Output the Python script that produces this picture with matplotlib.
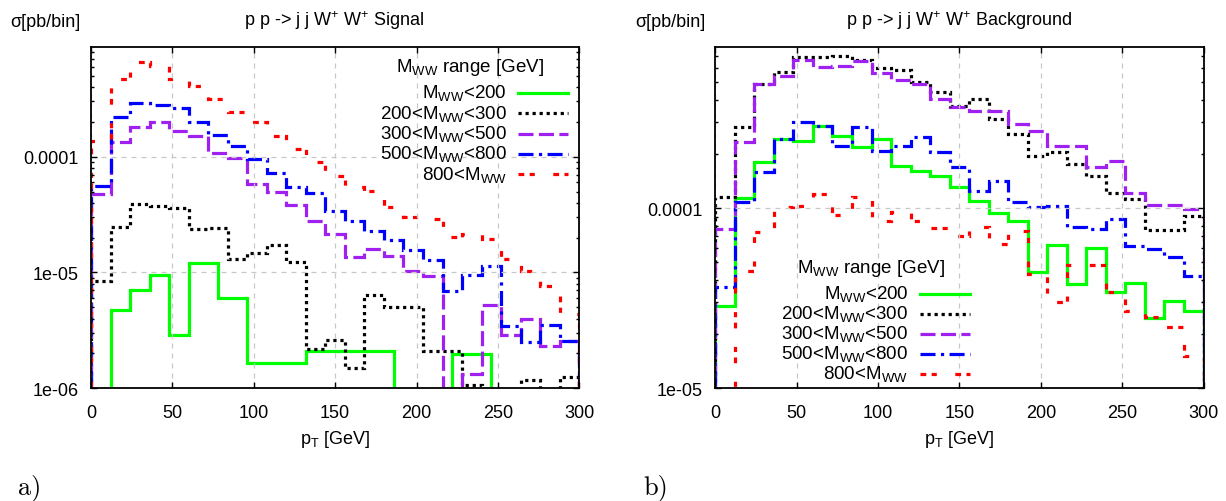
import numpy as np
import matplotlib
matplotlib.use('Agg')
import matplotlib.pyplot as plt
from matplotlib.lines import Line2D
from matplotlib.ticker import FixedLocator, FixedFormatter, LogLocator, NullFormatter

plt.rcParams['font.family'] = ['Liberation Sans', 'DejaVu Sans']
plt.rcParams['mathtext.fontset'] = 'custom'
plt.rcParams['mathtext.rm'] = 'Liberation Sans'
plt.rcParams['mathtext.it'] = 'Liberation Sans:italic'
plt.rcParams['mathtext.bf'] = 'Liberation Sans:bold'

# bin centres (12 GeV bins), 0 = empty bin (dropped on the log axis like gnuplot)
pt = [6, 18, 30, 42, 54, 66, 78, 90, 102, 114, 126, 138, 150,
      162, 174, 186, 198, 210, 222, 234, 246, 258, 270, 282, 294]

# a) signal
sig_green = [0, 4.7e-6, 7.1e-6, 9.6e-6, 2.9e-6, 1.2e-5, 0, 6.0e-6, 1.64e-6, 1.64e-6,
             1.64e-6, 2.1e-6, 2.1e-6, 2.1e-6, 2.1e-6, 0, 5e-7, 5e-7, 0, 1.96e-6,
             0, 5e-7, 5e-7, 5e-7, 5e-7]
sig_black = [8.5e-6, 2.49e-5, 3.93e-5, 3.78e-5, 3.63e-5, 2.39e-5, 2.44e-5, 1.32e-5, 1.46e-5, 1.74e-5,
             1.22e-5, 2.17e-6, 2.59e-6, 1.49e-6, 6.34e-6, 5.0e-6, 5.0e-6, 2.08e-6, 2.08e-6, 1.06e-6,
             5e-7, 5e-7, 1.17e-6, 5e-7, 1.24e-6]
sig_purple = [4.8e-5, 1.35e-4, 1.82e-4, 2.0e-4, 1.68e-4, 1.52e-4, 1.08e-4, 9.8e-5, 5.85e-5, 4.99e-5,
              3.86e-5, 2.81e-5, 2.13e-5, 1.35e-5, 1.61e-5, 1.40e-5, 1.04e-5, 9.4e-6, 5e-7, 1.32e-6,
              5.2e-6, 2.86e-6, 3.93e-6, 2.30e-6, 2.54e-6]
sig_blue = [5.62e-5, 2.21e-4, 2.92e-4, 2.81e-4, 2.64e-4, 2.0e-4, 1.55e-4, 1.24e-4, 9.6e-5, 7.28e-5,
            5.51e-5, 4.89e-5, 3.42e-5, 2.81e-5, 2.30e-5, 1.89e-5, 1.55e-5, 1.27e-5, 6.86e-6, 9.42e-6,
            1.13e-5, 3.42e-6, 2.49e-6, 3.49e-6, 2.54e-6]
sig_red = [1.37e-4, 4.70e-4, 6.59e-4, 6.08e-4, 4.70e-4, 4.09e-4, 3.16e-4, 2.44e-4, 2.0e-4, 1.52e-4,
           1.17e-4, 9.06e-5, 6.86e-5, 5.51e-5, 5.09e-5, 3.71e-5, 3.04e-5, 2.92e-5, 2.04e-5, 2.17e-5,
           1.96e-5, 1.32e-5, 1.02e-5, 7.57e-6, 4.35e-6]

# b) background
bkg_green = [2.86e-5, 1.14e-4, 1.81e-4, 2.43e-4, 2.37e-4, 2.86e-4, 2.52e-4, 2.19e-4, 2.43e-4, 1.72e-4,
             1.61e-4, 1.51e-4, 1.31e-4, 1.10e-4, 9.42e-5, 8.50e-5, 4.43e-5, 6.25e-5, 3.80e-5, 6.02e-5,
             3.43e-5, 3.85e-5, 2.46e-5, 3.05e-5, 2.69e-5]
bkg_black = [1.16e-4, 2.83e-4, 4.91e-4, 5.72e-4, 6.94e-4, 6.94e-4, 7.02e-4, 6.67e-4, 6.01e-4, 5.87e-4,
             5.04e-4, 4.43e-4, 3.70e-4, 4.05e-4, 3.13e-4, 2.59e-4, 1.95e-4, 2.06e-4, 1.76e-4, 1.51e-4,
             1.22e-4, 1.13e-4, 7.58e-5, 7.58e-5, 9.06e-5]
bkg_purple = [7.67e-5, 2.34e-4, 4.91e-4, 5.43e-4, 6.67e-4, 6.09e-4, 6.18e-4, 6.58e-4, 5.65e-4, 5.16e-4,
              4.91e-4, 4.05e-4, 3.65e-4, 3.47e-4, 3.47e-4, 2.94e-4, 2.69e-4, 2.22e-4, 2.22e-4, 1.69e-4,
              1.83e-4, 1.22e-4, 1.04e-4, 1.04e-4, 9.9e-5]
bkg_blue = [3.66e-5, 1.08e-4, 1.59e-4, 2.43e-4, 3.01e-4, 2.86e-4, 2.22e-4, 2.83e-4, 2.08e-4, 2.22e-4,
            2.49e-4, 2.06e-4, 1.69e-4, 1.25e-4, 1.42e-4, 1.08e-4, 1.02e-4, 1.03e-4, 7.87e-5, 7.67e-5,
            8.72e-5, 6.18e-5, 5.94e-5, 5.36e-5, 4.21e-5]
bkg_red = [0, 4.49e-5, 7.38e-5, 1.02e-4, 1.03e-4, 1.20e-4, 9.18e-5, 1.16e-4, 8.50e-5, 9.54e-5,
           8.50e-5, 7.78e-5, 7.02e-5, 7.87e-5, 6.34e-5, 7.48e-5, 4.31e-5, 3.02e-5, 4.84e-5, 4.84e-5,
           3.43e-5, 2.69e-5, 2.49e-5, 2.19e-5, 1.51e-5]

labels = ['M$_{\\mathrm{WW}}$<200', '200<M$_{\\mathrm{WW}}$<300', '300<M$_{\\mathrm{WW}}$<500',
          '500<M$_{\\mathrm{WW}}$<800', '800<M$_{\\mathrm{WW}}$']
colors = ['#00ff00', 'black', '#a020f0', '#0000ff', '#ff0000']
styles = ['-', (0, (1, 1.2)), (0, (4.7, 1.7)), (0, (4.7, 1.7, 1, 1.7)), (0, (1.8, 1.7, 1.6, 5.8))]
LW = 2.3


def histeps(ax, x, y, **kw):
    # gnuplot-style histeps: steps at midpoints between the kept points
    x = np.asarray(x, float)
    y = np.asarray(y, float)
    ok = y > 0
    x, y = x[ok], y[ok]
    mid = (x[1:] + x[:-1]) / 2
    edges = np.concatenate([[x[0] - (x[1] - x[0]) / 2], mid, [x[-1] + (x[-1] - x[-2]) / 2]])
    ax.stairs(y, edges, baseline=1e-9, fill=False, **kw)


def setup(ax, ymin, ymax, majors, majlabels):
    ax.set_yscale('log')
    ax.set_xlim(0, 300)
    ax.set_ylim(ymin, ymax)
    ax.set_xticks([0, 50, 100, 150, 200, 250, 300])
    ax.yaxis.set_major_locator(FixedLocator(majors))
    ax.yaxis.set_major_formatter(FixedFormatter(majlabels))
    ax.yaxis.set_minor_locator(LogLocator(base=10, subs=np.arange(2, 10)))
    ax.yaxis.set_minor_formatter(NullFormatter())
    ax.tick_params(which='both', direction='in', top=True, right=True, labelsize=13)
    ax.tick_params(which='major', length=4.5, width=1, pad=9)
    ax.tick_params(axis='x', which='major', pad=11)
    ax.tick_params(which='minor', length=2.3, width=1)
    ax.grid(True, which='major', color='#c8c8c8', ls=(0, (4, 4)), lw=0.9)
    for s in ax.spines.values():
        s.set_linewidth(1.3)
    ax.set_xlabel('p$_{\\mathrm{T}}$ [GeV]', fontsize=13, labelpad=5)


def legend(ax, xr, xl0, xl1, ytitle, xtitle, y0, step):
    ax.text(xtitle, ytitle, 'M$_{\\mathrm{WW}}$ range [GeV]', transform=ax.transAxes,
            ha='center', va='baseline', fontsize=13.5, zorder=5)
    for i in range(5):
        yb = y0 - i * step
        ax.text(xr, yb, labels[i], transform=ax.transAxes, ha='right', va='baseline',
                fontsize=13.5, zorder=5)
        ax.add_line(Line2D([xl0, xl1], [yb + 0.013, yb + 0.013], transform=ax.transAxes,
                           color=colors[i], ls=styles[i], lw=LW, zorder=5))


fig = plt.figure(figsize=(12.26, 5.02), dpi=100)
ax1 = fig.add_axes([0.0742, 0.2245, 0.3983, 0.6805])
ax2 = fig.add_axes([0.5834, 0.2245, 0.3983, 0.6805])

sig = [sig_green, sig_black, sig_purple, sig_blue, sig_red]
bkg = [bkg_green, bkg_black, bkg_purple, bkg_blue, bkg_red]
for i in range(5):
    histeps(ax1, pt, sig[i], color=colors[i], ls=styles[i], lw=LW)
    histeps(ax2, pt, bkg[i], color=colors[i], ls=styles[i], lw=LW)

setup(ax1, 1e-6, 8.9e-4, [1e-6, 1e-5, 1e-4], ['1e-06', '1e-05', '0.0001'])
setup(ax2, 1e-5, 7.9e-4, [1e-5, 1e-4], ['1e-05', '0.0001'])

legend(ax1, 0.851, 0.874, 0.977, 0.9274, 0.776, 0.8513, 0.0594)
legend(ax2, 0.395, 0.419, 0.521, 0.339, 0.318, 0.2629, 0.0585)

fig.text(0.008, 0.956, '\u03c3[pb/bin]', fontsize=13, ha='left', va='center')
fig.text(0.518, 0.956, '\u03c3[pb/bin]', fontsize=13, ha='left', va='center')
fig.text(0.273, 0.958, 'p p -> j j W$^{+}$ W$^{+}$ Signal', fontsize=13, ha='center', va='center')
fig.text(0.7826, 0.958, 'p p -> j j W$^{+}$ W$^{+}$ Background', fontsize=13, ha='center', va='center')
fig.text(0.0147, 0.028, 'a)', fontsize=19, family='cmr10', ha='left', va='center')
fig.text(0.5245, 0.028, 'b)', fontsize=19, family='cmr10', ha='left', va='center')

fig.savefig('out.png', dpi=100)
